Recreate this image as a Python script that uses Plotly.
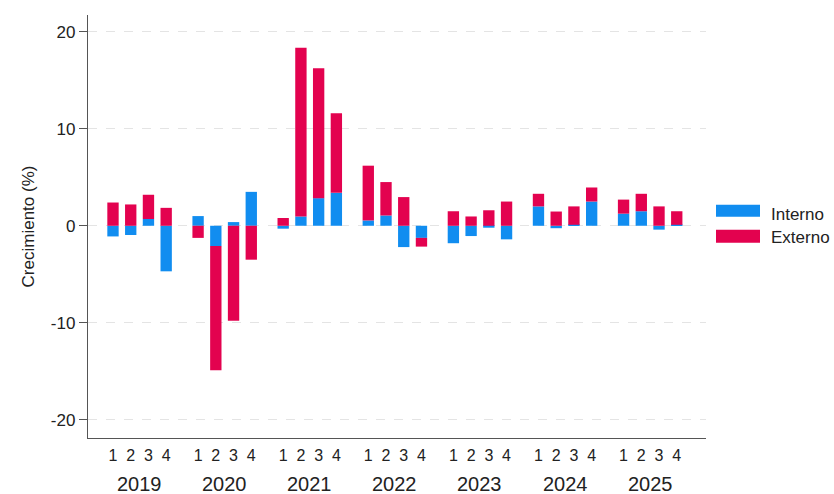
import plotly.graph_objects as go

years = ["2019", "2020", "2021", "2022", "2023", "2024", "2025"]
quarters = ["1", "2", "3", "4"]
y_ticks = [-20, -10, 0, 10, 20]
y_ticklabels = ["-20", "-10", "0", "10", "20"]

interno = [-1.1, -0.95, 0.7, -4.7,
           1.0, -2.1, 0.38, 3.5,
           -0.3, 0.96, 2.85, 3.4,
           0.55, 1.06, -2.2, -1.25,
           -1.8, -1.06, -0.2, -1.4,
           2.0, -0.25, 0.1, 2.5,
           1.25, 1.5, -0.4, 0.1]
externo = [2.4, 2.2, 2.5, 1.85,
           -1.25, -12.8, -9.8, -3.5,
           0.8, 17.4, 13.4, 8.2,
           5.65, 3.45, 2.96, -0.9,
           1.5, 0.96, 1.6, 2.5,
           1.3, 1.47, 1.9, 1.45,
           1.45, 1.8, 2.0, 1.4]

series_names = ["Interno", "Externo"]
colors = ["#118DF0", "#E3024F"]

GROUP_STEP = 4.8
xpos = [g * GROUP_STEP + q for g in range(len(years)) for q in range(len(quarters))]
qlabels = [q for _ in years for q in quarters]
ycenters = [g * GROUP_STEP + 1.5 for g in range(len(years))]

W, H = 834, 494
L, R, T, B = 88, 706, 15, 438.5
def px(x):
    return (x - L) / (R - L)
def py(y):
    return (B - y) / (B - T)

fig = go.Figure()
for name, vals, col in zip(series_names, [interno, externo], colors):
    fig.add_trace(go.Bar(x=xpos, y=vals, name=name, marker_color=col,
                         marker_line_width=0, width=0.64, showlegend=False))

fig.update_layout(
    width=W, height=H,
    margin=dict(l=L, r=W - R, t=T, b=H - B, pad=0),
    barmode="relative",
    plot_bgcolor="white", paper_bgcolor="white",
    font=dict(family="Liberation Sans, Arial, sans-serif", color="#222"),
    xaxis=dict(range=[-1.41, 33.45], tickvals=xpos, ticktext=qlabels,
               tickfont=dict(size=16), showgrid=False, zeroline=False,
               showline=True, linecolor="#555", linewidth=1.3,
               ticks="outside", ticklen=3, tickcolor="rgba(0,0,0,0)"),
    yaxis=dict(range=[-21.9, 21.75], tickvals=y_ticks, ticktext=y_ticklabels,
               tickfont=dict(size=17), showgrid=True, gridcolor="#e4e4e4",
               griddash="dash", gridwidth=1, zeroline=False,
               showline=True, linecolor="#555", linewidth=1.3,
               ticks="outside", ticklen=8, tickcolor="#555",
               title=dict(text="Crecimiento (%)", font=dict(size=17), standoff=11)),
)

for yr, xc in zip(years, ycenters):
    fig.add_annotation(x=xc, y=py(485), xref="x", yref="paper", text=yr,
                       showarrow=False, font=dict(size=20), xanchor="center", yanchor="middle")

legend_boxes = [(205, 217, 215), (230, 243, 238)]
for name, col, (y0, y1, yt) in zip(series_names, colors, legend_boxes):
    fig.add_shape(type="rect", xref="paper", yref="paper",
                  x0=px(716), x1=px(760), y0=py(y1), y1=py(y0),
                  fillcolor=col, line_width=0)
    fig.add_annotation(x=px(769), y=py(yt), xref="paper", yref="paper", text=name,
                       showarrow=False, font=dict(size=17), xanchor="left", yanchor="middle")

fig.write_html("out.html", config={"displayModeBar": False},
               post_script="document.body.style.margin='0';document.body.style.overflow='hidden';")
